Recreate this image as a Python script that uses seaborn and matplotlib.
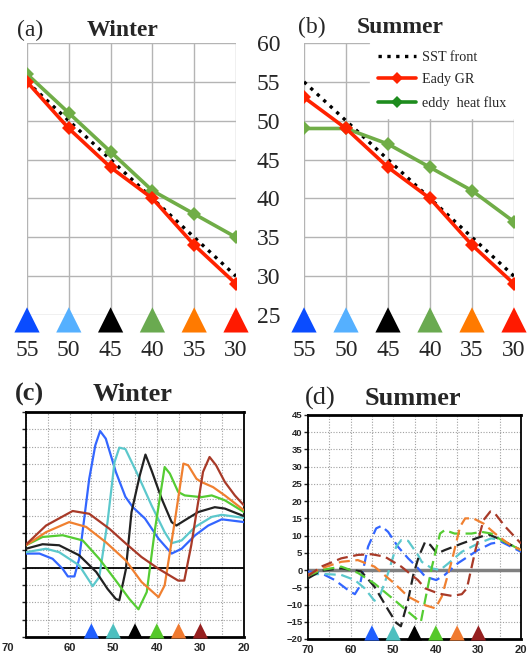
import matplotlib
matplotlib.use('Agg')
import matplotlib.pyplot as plt
from matplotlib.lines import Line2D
import seaborn as sns

# latitude of the SST front (deg N) for each experiment
fronts = [55, 50, 45, 40, 35, 30]

# (a)/(b) latitude of max Eady growth rate / eddy heat flux
sst_front = [55, 50, 45, 40, 35, 30]
winter_eady = [55, 49, 44, 40, 34, 29]
winter_flux = [56, 51, 46, 41, 38, 35]
summer_eady = [53, 49, 44, 40, 34, 29]
summer_flux = [49, 49, 47, 44, 41, 37]

# (c) winter profiles, one per front
w55_lat = [70, 66.9, 63.9, 61.6, 60.4, 58.9, 57.8, 55.5, 54.1, 53, 51.7, 49.4, 47.2, 45.5, 42.7, 39.6, 36.6, 34.3, 31.2, 28.2, 25.1, 20]
w55_val = [4.1, 4.1, 2.6, -0.3, -2.5, -2.5, 2.6, 25.7, 35.4, 39.5, 37.3, 27.7, 20.5, 17.5, 14.2, 8.4, 4.1, 5.5, 9.4, 12.2, 14, 13.2]
w50_lat = [70, 65.4, 62.4, 57.8, 54.7, 53.2, 51.3, 49.7, 48.6, 47.2, 44.3, 41.2, 38.2, 36.6, 34.3, 31.2, 27.4, 25.1, 20]
w50_val = [4.5, 5.5, 4.5, 0.7, -5.3, -2.7, 13.2, 30.5, 34.7, 34.3, 26.7, 18, 10.3, 7.1, 7.9, 11.8, 14.7, 15.3, 14.4]
w45_lat = [70, 66.2, 62.4, 57.8, 53.9, 51.3, 49.4, 48.6, 47.1, 45.8, 43.9, 42.6, 41.2, 38.9, 36.6, 35.5, 33.6, 30.5, 26.7, 24.4, 20]
w45_val = [5.5, 6.8, 6.5, 3.6, -1.2, -6.1, -9, -9.4, -0.5, 16.1, 26.7, 32.7, 28.1, 20, 13.2, 12.2, 13.7, 16.1, 17.5, 17.1, 14.9]
w40_lat = [70, 66.2, 61.6, 57, 53.2, 49.4, 46.3, 44.2, 42.3, 40.4, 38.2, 37, 35.1, 33.6, 29.8, 27.4, 24.4, 20]
w40_val = [6.5, 8.9, 9.4, 7.9, 2.6, -3.7, -9, -12, -7, 11.3, 29.1, 27.2, 21.9, 20.9, 20.4, 20.9, 19.5, 16.1]
w35_lat = [70, 65.4, 60.1, 56.2, 51.7, 47.1, 43.5, 39.6, 38.2, 35.9, 33.9, 32.8, 30.9, 29.8, 27.1, 24.4, 20]
w35_val = [6.5, 10.3, 13.2, 11.8, 7.4, 2.1, -4.1, -8.5, -5.1, 13.2, 30.1, 29.6, 25.7, 24.8, 23.3, 20.9, 16.6]
w30_lat = [70, 65.4, 59.3, 55.5, 50.9, 47.1, 43.5, 39.6, 35.1, 33.7, 32.1, 29.4, 27.9, 26.4, 24.4, 22.1, 20]
w30_val = [6.7, 12.2, 16.4, 15.6, 11.3, 7, 3.1, -0.3, -3.7, -3.7, 6.5, 27.7, 32, 29.6, 24.8, 20.9, 18]

# (d) summer profiles, one per front
s55_lat = [70, 66.9, 63.7, 60.6, 59, 57.9, 55.9, 54, 52.8, 51.2, 48.9, 46.5, 44.5, 42.5, 39.9, 37.9, 34.8, 30.1, 27, 24.6, 20]
s55_val = [-0.4, -0.9, -2.9, -5.8, -7, -4.8, 6.8, 12.1, 12.8, 11.1, 6.8, 3.4, 1.0, -1.9, -2.9, -1.4, 2, 5.8, 7.7, 8.2, 5.3]
s50_lat = [70, 66.9, 62.2, 59, 56.7, 54.4, 53.2, 51.2, 49.3, 48.1, 46.5, 44.2, 43.3, 40.9, 39, 37, 33.9, 30.1, 27, 24.6, 20]
s50_val = [-1.4, -1.1, -1.4, -2.9, -5.3, -8.9, -7.7, -0.9, 6.8, 8.7, 8.5, 4.4, 2.4, 0.5, 0, 2, 5.3, 7.7, 9.2, 8.7, 5.8]
s45_lat = [70, 66.9, 62.2, 57.5, 54.4, 51.2, 49.3, 48.2, 46.5, 45.3, 44, 42.5, 41.3, 39.7, 37.9, 33.9, 30.1, 27.7, 25.4, 20]
s45_val = [-2.4, -0.2, 0.5, -0.4, -4.8, -11.5, -15.3, -16.3, -8.7, -1.5, 3.9, 8.2, 7.3, 4.8, 5.8, 7.7, 9.4, 10.4, 9.2, 5.8]
s40_lat = [70, 66.9, 62.2, 58.3, 54.4, 49.7, 46.5, 44.2, 43.5, 42.5, 40.9, 39, 37.9, 35.6, 31.6, 29.3, 27, 24.6, 20]
s40_val = [-1.7, 0, 1, -0.8, -3.9, -8.7, -12.1, -14.5, -15, -8.7, 1, 10.6, 11.6, 10.6, 10.6, 11.1, 10.6, 8.7, 5.8]
s35_lat = [70, 66.9, 62.2, 58.3, 54.4, 49.7, 46.5, 44.2, 42.5, 40.1, 38.6, 36.2, 34.3, 33.1, 31.2, 28.8, 26.1, 23, 20]
s35_val = [-1.4, 0.5, 2.4, 2.9, 1, -3.9, -7.7, -9.2, -10.2, -11.1, -7.7, 2.9, 12.6, 15, 15, 13.5, 10.6, 7.7, 5.8]
s30_lat = [70, 66.9, 62.2, 58.3, 55.1, 52, 48.1, 44.2, 42.5, 39.4, 36.2, 33.9, 32.7, 30.7, 28.8, 27.2, 26.1, 23.7, 20]
s30_val = [-1.7, 1, 3.4, 4.4, 4.6, 3.9, 1, -2.9, -5.3, -6.8, -7.5, -7, -5.3, 5.8, 14.5, 17, 16.4, 12.6, 7.7]

top_tri = ['#0a4cff', '#55b0ff', '#000000', '#6aaa50', '#ff7a00', '#ff1a00']
low_col = ['#3366ff', '#5cc8cc', '#222222', '#55cc33', '#f08030', '#a83a28']
low_tri = ['#1f5fff', '#4dbfbf', '#000000', '#55c82a', '#f07a30', '#962020']
red = '#ff2200'
green = '#70ad47'

sns.set_style('white')
plt.rcParams['font.family'] = ['Liberation Serif', 'DejaVu Serif']

W, H = 530, 655
fig = plt.figure(figsize=(W / 100, H / 100), dpi=100)


def box(l, t, r, b):
    return [l / W, 1 - b / H, (r - l) / W, (b - t) / H]


def top_panel(ax, eady, flux, right_labels):
    ax.set_xlim(55, 30)
    ax.set_ylim(25, 60)
    ax.set_xticks(fronts)
    ax.set_yticks(range(25, 61, 5))
    ax.grid(True, color='#b4b4b4', lw=1.0)
    for s in ax.spines.values():
        s.set_visible(False)
    ax.tick_params(length=0, labelsize=17)
    ax.tick_params(axis='x', pad=18)
    if right_labels:
        ax.yaxis.tick_right()
        ax.tick_params(axis='y', pad=15)
    else:
        ax.set_yticklabels([])
    sns.lineplot(x=sst_front, y=sst_front, ax=ax, color='black', lw=2.4,
                 linestyle=':', sort=False, estimator=None, zorder=3)
    sns.lineplot(x=fronts, y=flux, ax=ax, color=green, lw=2.6, marker='D',
                 markersize=7, markeredgewidth=0, sort=False, estimator=None, zorder=4)
    sns.lineplot(x=fronts, y=eady, ax=ax, color=red, lw=2.6, marker='D',
                 markersize=7, markeredgewidth=0, sort=False, estimator=None, zorder=5)
    ax.scatter(fronts, [-0.018] * 6, c=top_tri, marker='^', s=330, lw=0,
               transform=ax.get_xaxis_transform(), clip_on=False, zorder=6)


ax_a = fig.add_axes(box(27, 43, 236, 315))
top_panel(ax_a, winter_eady, winter_flux, True)
ax_b = fig.add_axes(box(304, 43, 514, 315))
top_panel(ax_b, summer_eady, summer_flux, False)

handles = [
    Line2D([], [], color='black', lw=2.4, ls=':'),
    Line2D([], [], color=red, lw=2.6, marker='D', ms=6, mew=0),
    Line2D([], [], color='#1e8c1e', lw=2.6, marker='D', ms=6, mew=0),
]
leg = ax_b.legend(handles, ['SST front', 'Eady GR', 'eddy  heat flux'],
                  loc='upper right', bbox_to_anchor=(1.0, 1.0), borderaxespad=0,
                  fontsize=10.2, handlelength=2.7, handletextpad=0.4,
                  labelspacing=0.68, frameon=True, fancybox=False, borderpad=0.55)
leg.get_frame().set_facecolor('white')
leg.get_frame().set_edgecolor('white')
leg.get_frame().set_alpha(1)

fig.text(17 / W, 1 - 36 / H, '(a)', fontsize=17, va='baseline')
fig.text(87 / W, 1 - 36 / H, 'Winter', fontsize=17, weight='bold', va='baseline')
fig.text(298 / W, 1 - 33 / H, '(b)', fontsize=17, va='baseline')
fig.text(357 / W, 1 - 33 / H, 'Summer', fontsize=17, weight='bold', va='baseline')

winter_lat = [w55_lat, w50_lat, w45_lat, w40_lat, w35_lat, w30_lat]
winter_val = [w55_val, w50_val, w45_val, w40_val, w35_val, w30_val]
summer_lat = [s55_lat, s50_lat, s45_lat, s40_lat, s35_lat, s30_lat]
summer_val = [s55_val, s50_val, s45_val, s40_val, s35_val, s30_val]


def low_panel(ax, lats, vals, dashed, ylabels):
    ax.set_xlim(70, 20)
    ax.set_ylim(-20, 45)
    ax.set_xticks(range(70, 19, -10))
    ax.set_xticks(range(65, 20, -10), minor=True)
    ax.set_yticks(range(-20, 46, 5))
    ax.grid(True, which='both', color='#a0a0a0', lw=0.8, ls=(0, (1, 1.5)))
    for s in ax.spines.values():
        s.set_color('black')
        s.set_linewidth(1.3)
    ax.spines['top'].set_linewidth(2)
    ax.spines['bottom'].set_linewidth(2)
    ax.tick_params(axis='x', which='both', length=0, pad=4)
    ax.tick_params(axis='y', length=3, width=1, direction='out', left=True, pad=1)
    for t in ax.get_xticklabels() + ax.get_yticklabels():
        t.set_family(['Liberation Sans', 'DejaVu Sans'])
        t.set_weight('bold')
    ax.tick_params(axis='x', labelsize=8)
    ax.tick_params(axis='y', labelsize=6.8)
    if not ylabels:
        ax.set_yticklabels([])
    if dashed:
        ax.axhline(0, color='#808080', lw=2.5, zorder=2)
    else:
        ax.axhline(0, color='black', lw=1.3, zorder=2)
    for lat, val, col in zip(lats, vals, low_col):
        sns.lineplot(x=lat, y=val, ax=ax, color=col, lw=1.6, sort=False,
                     estimator=None, zorder=3,
                     linestyle=(0, (5, 2.5)) if dashed else '-')
    ax.scatter(fronts, [0.027] * 6, c=low_tri, marker='^', s=120, lw=0,
               transform=ax.get_xaxis_transform(), clip_on=False, zorder=5)


ax_c = fig.add_axes(box(26, 412, 244, 637))
low_panel(ax_c, winter_lat, winter_val, False, False)
ax_c.set_xticklabels(['', '60', '50', '40', '30', '20'])
fig.text(1 / W, 1 - 648 / H, '70', fontsize=8, weight='bold', ha='left', va='center',
         family=['Liberation Sans', 'DejaVu Sans'])

ax_d = fig.add_axes(box(308, 415, 521, 639))
low_panel(ax_d, summer_lat, summer_val, True, True)

fig.text(15 / W, 1 - 401 / H, '(c)', fontsize=19, weight='bold', va='baseline')
fig.text(93 / W, 1 - 401 / H, 'Winter', fontsize=19, weight='bold', va='baseline')
fig.text(305 / W, 1 - 405 / H, '(d)', fontsize=19, va='baseline')
fig.text(365 / W, 1 - 405 / H, 'Summer', fontsize=19, weight='bold', va='baseline')

fig.savefig('out.png', dpi=100)
